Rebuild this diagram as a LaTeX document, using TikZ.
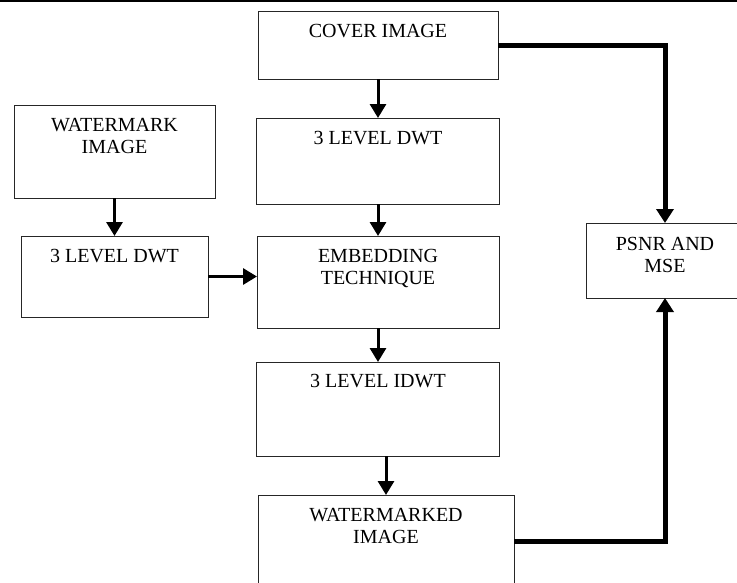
\documentclass[tikz,border=0pt]{standalone}
\usepackage{fontspec}
\setmainfont{Liberation Serif}
\usepackage{tikz}
\usetikzlibrary{arrows.meta,positioning}
\tikzset{
  box/.style = {draw=black!85, line width=0.9pt, inner sep=0pt, outer sep=0pt},
  txt/.style = {align=center, inner sep=0pt, font=\fontsize{20}{22}\selectfont},
  ar/.style  = {-{Triangle[length=14pt,width=16pt]}, line width=3pt},
  ar2/.style = {-{Triangle[length=14pt,width=17pt]}, line width=5pt},
}

\begin{document}
\begin{tikzpicture}[x=1pt, y=1pt]
  \useasboundingbox (0,0) rectangle (737,-582);
  \clip (0,0) rectangle (737,-582);
  \draw[line width=2pt] (0,-1) -- (737,-1);
  % centre column
  \node[box, minimum width=240pt, minimum height=68pt] (cover) at (378,-45) {};
  \node[box, minimum width=243pt, minimum height=86pt, below=39pt of cover] (dwtc) {};
  \node[box, minimum width=242pt, minimum height=92pt, below=32pt of dwtc] (embed) {};
  \node[box, minimum width=243pt, minimum height=94pt, below=34pt of embed] (idwt) {};
  \node[box, minimum width=256pt, minimum height=92pt, below=39pt of idwt, xshift=8pt] (wmd) {};
  % left column
  \node[box, minimum width=201pt, minimum height=93pt] (wm) at (114.5,-151.5) {};
  \node[box, minimum width=187pt, minimum height=81pt, below=38pt of wm] (dwtl) {};
  % result
  \node[box, minimum width=158pt, minimum height=75pt] (psnr) at (665,-260.5) {};
  % labels
  \node[txt, below=13pt of cover.north] (cover-t) {COVER IMAGE};
  \node[txt, below=13pt of dwtc.north] (dwtc-t) {3 LEVEL DWT};
  \node[txt, below=13pt of embed.north] (embed-t) {EMBEDDING\\TECHNIQUE};
  \node[txt, below=12pt of idwt.north] (idwt-t) {3 LEVEL IDWT};
  \node[txt, below=13pt of wmd.north] (wmd-t) {WATERMARKED\\IMAGE};
  \node[txt, below=13pt of wm.north] (wm-t) {WATERMARK\\IMAGE};
  \node[txt, below=13pt of dwtl.north] (dwtl-t) {3 LEVEL DWT};
  \node[txt, below=14pt of psnr.north] (psnr-t) {PSNR AND\\MSE};
  % arrows
  \draw[ar] (cover) -- (dwtc);
  \draw[ar] (dwtc) -- (embed);
  \draw[ar] (embed) -- (idwt);
  \draw[ar] (idwt.south -| wmd) -- (wmd.north);
  \draw[ar] (wm) -- (dwtl);
  \draw[ar] (dwtl.east) -- (dwtl.east -| embed.west);
  \draw[ar2] (cover.east) -| (psnr.north);
  \draw[ar2] (wmd.east) -| (psnr.south);
\end{tikzpicture}
\end{document}
